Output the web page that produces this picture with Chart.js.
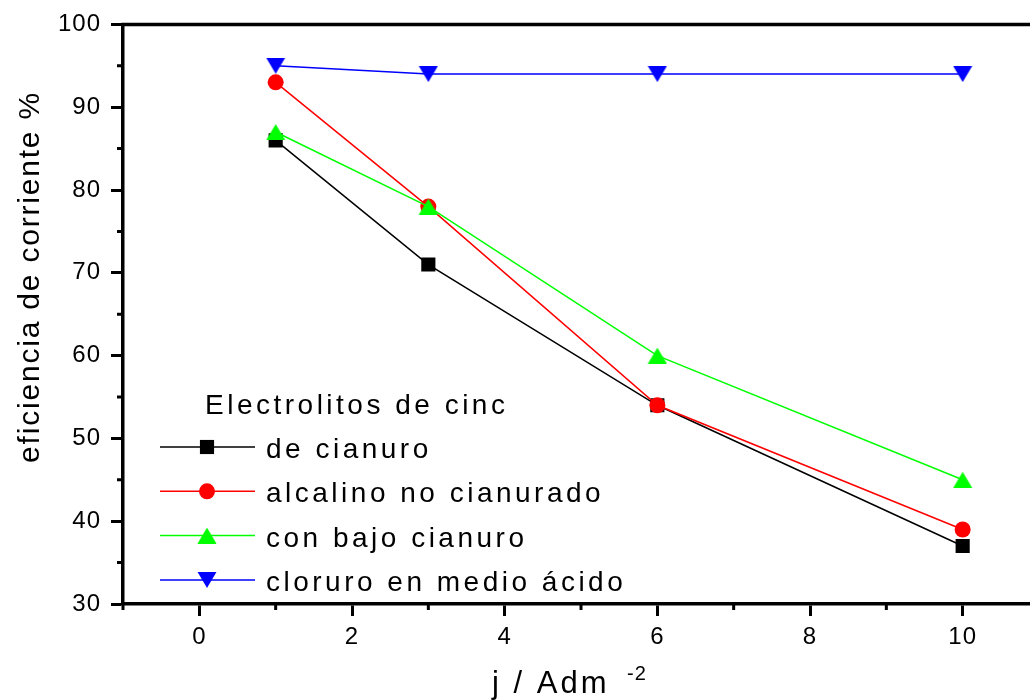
<!doctype html>
<html lang="es">
  <head>
    <meta charset="utf-8">
    <title>Eficiencia de corriente - electrolitos de cinc</title>
    <style>
      * { margin: 0; padding: 0; }
      body { width: 1030px; height: 700px; overflow: hidden; background: #fff; }
      canvas { display: block; }
    </style>
  </head>
  <body>
    <canvas id="myChart" width="1049" height="700"></canvas>
    <script src="https://cdn.jsdelivr.net/npm/chart.js/dist/chart.umd.min.js"></script>
    <script>
    // data
    const corriente = [1, 3, 6, 10];
    const deCianuro = [86, 71, 54, 37];
    const alcalinoNoCianurado = [93, 78, 54, 39];
    const conBajoCianuro = [87, 78, 60, 45];
    const cloruroAcido = [95, 94, 94, 94];
    const seriesNames = ['de cianuro', 'alcalino no cianurado', 'con bajo cianuro', 'cloruro en medio ácido'];
    const xTickValues = [0, 2, 4, 6, 8, 10];
    const xMinorValues = [-1, 1, 3, 5, 7, 9];
    const yMinorValues = [35, 45, 55, 65, 75, 85, 95];

    const FONT = "'Liberation Sans', Arial, sans-serif";
    const toPoints = (ys) => ys.map((y, i) => ({ x: corriente[i], y }));

    // triangle marker as a small canvas so its box is centred on the value
    function triangle(color, down) {
      const c = document.createElement('canvas');
      c.width = 20;
      c.height = 16;
      const g = c.getContext('2d');
      g.fillStyle = color;
      g.beginPath();
      if (down) {
        g.moveTo(0.5, 0); g.lineTo(19.5, 0); g.lineTo(10, 16);
      } else {
        g.moveTo(10, 0); g.lineTo(19.5, 16); g.lineTo(0.5, 16);
      }
      g.closePath();
      g.fill();
      return c;
    }

    const markers = [
      { color: '#000000', pointStyle: 'rect', radius: 10 },
      { color: '#ff0000', pointStyle: 'circle', radius: 8 },
      { color: '#00ff00', pointStyle: triangle('#00ff00', false), radius: 10 },
      { color: '#0000ff', pointStyle: triangle('#0000ff', true), radius: 10 }
    ];
    const values = [deCianuro, alcalinoNoCianurado, conBajoCianuro, cloruroAcido];

    const datasets = values.map((vals, i) => ({
      label: seriesNames[i],
      data: toPoints(vals),
      borderColor: markers[i].color,
      backgroundColor: markers[i].color,
      borderWidth: 1.5,
      pointStyle: markers[i].pointStyle,
      pointRadius: markers[i].radius,
      pointBorderWidth: 0,
      pointHoverRadius: markers[i].radius,
      order: 3 - i,
      tension: 0
    }));

    // minor ticks, frame top line, axis titles, legend
    const decorations = {
      id: 'decorations',
      beforeDraw(chart) {
        chart.ctx.letterSpacing = '1px';
      },
      afterDraw(chart) {
        const { ctx, chartArea: { left, right, top, bottom }, scales: { x, y } } = chart;
        ctx.save();
        ctx.letterSpacing = '0px';
        ctx.strokeStyle = '#000';
        ctx.lineWidth = 3;
        ctx.beginPath();
        xMinorValues.forEach(v => {
          const px = x.getPixelForValue(v);
          ctx.moveTo(px, bottom);
          ctx.lineTo(px, bottom + 6);
        });
        yMinorValues.forEach(v => {
          const py = y.getPixelForValue(v);
          ctx.moveTo(left, py);
          ctx.lineTo(left - 6, py);
        });
        ctx.stroke();

        // top and right frame
        ctx.lineWidth = 3.5;
        ctx.beginPath();
        ctx.moveTo(left - 1.75, top);
        ctx.lineTo(right, top);
        ctx.lineTo(right, bottom);
        ctx.stroke();

        // y title
        ctx.fillStyle = '#000';
        ctx.save();
        ctx.translate(39, 277);
        ctx.rotate(-Math.PI / 2);
        ctx.font = '30px ' + FONT;
        ctx.letterSpacing = '1.8px';
        ctx.textAlign = 'center';
        ctx.textBaseline = 'alphabetic';
        ctx.fillText('eficiencia de corriente %', 0, 0);
        ctx.restore();

        // x title with superscript
        ctx.font = '31px ' + FONT;
        ctx.letterSpacing = '3px';
        ctx.textAlign = 'left';
        ctx.textBaseline = 'alphabetic';
        ctx.fillText('j / Adm', 492, 693);
        ctx.font = '20px ' + FONT;
        ctx.letterSpacing = '1px';
        ctx.fillText('-2', 627, 680);

        // legend
        ctx.font = '28px ' + FONT;
        ctx.letterSpacing = '3.5px';
        ctx.fillText('Electrolitos de cinc', 205, 414);
        const drawPoint = Chart.helpers && Chart.helpers.drawPoint;
        seriesNames.forEach((name, i) => {
          const ly = 447 + i * 44.3;
          const m = markers[i];
          ctx.strokeStyle = m.color;
          ctx.fillStyle = m.color;
          ctx.lineWidth = 1.5;
          ctx.beginPath();
          ctx.moveTo(160, ly);
          ctx.lineTo(255, ly);
          ctx.stroke();
          if (drawPoint) {
            drawPoint(ctx, { pointStyle: m.pointStyle, radius: m.radius, rotation: 0, borderWidth: 0 }, 207, ly);
          }
          ctx.fillStyle = '#000';
          ctx.fillText(name, 266, ly + 11);
        });
        ctx.restore();
      }
    };

    const config = {
      type: 'line',
      data: { datasets },
      options: {
        responsive: false,
        animation: false,
        layout: { padding: { left: 0, top: 22, right: 3, bottom: 0 } },
        scales: {
          x: {
            type: 'linear',
            min: -1,
            max: 11,
            afterBuildTicks: (scale) => { scale.ticks = xTickValues.map(v => ({ value: v })); },
            afterFit: (scale) => { scale.height = 96; },
            grid: { drawOnChartArea: false, drawTicks: true, tickLength: 12, tickWidth: 3, tickColor: '#000' },
            border: { display: true, color: '#000', width: 3.5 },
            ticks: { color: '#000', font: { family: FONT, size: 24 }, padding: 7, maxRotation: 0 }
          },
          y: {
            min: 30,
            max: 100,
            afterFit: (scale) => { scale.width = 123; },
            grid: { drawOnChartArea: false, drawTicks: true, tickLength: 12, tickWidth: 3, tickColor: '#000' },
            border: { display: true, color: '#000', width: 3.5 },
            ticks: { stepSize: 10, color: '#000', font: { family: FONT, size: 24 }, padding: 10 }
          }
        },
        plugins: {
          legend: { display: false },
          tooltip: { enabled: false }
        }
      },
      plugins: [decorations]
    };

    const myChart = new Chart(document.getElementById('myChart'), config);
    </script>
  </body>
</html>
